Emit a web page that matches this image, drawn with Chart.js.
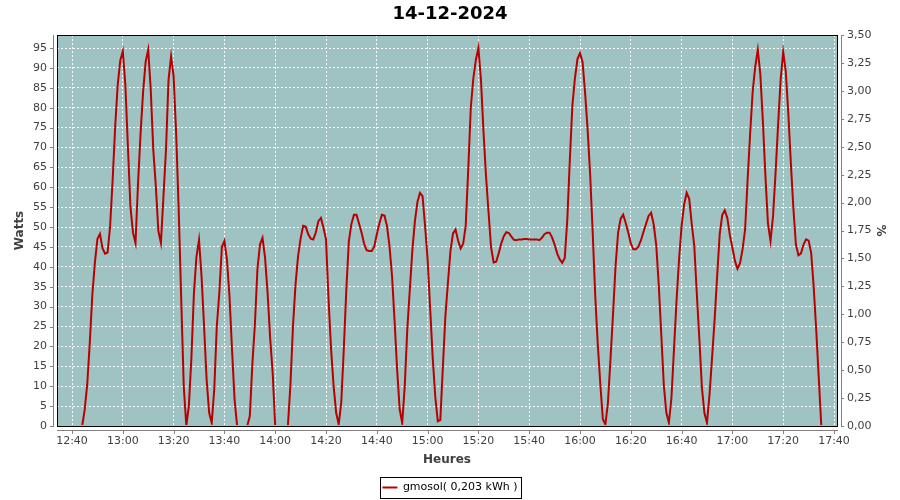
<!DOCTYPE html>
<html><head><meta charset="utf-8">
<script src="https://cdn.jsdelivr.net/npm/chart.js@4.4.1/dist/chart.umd.min.js"></script>
<style>html,body{margin:0;padding:0;background:#fff;}#c{display:block;}</style>
</head><body>
<canvas id="c" width="900" height="500"></canvas>
<script>
const chartTitle = '14-12-2024';
const seriesName = 'gmosol( 0,203 kWh )';
const xTitle = 'Heures';
const yTitle = 'Watts';
const y2Title = '%';

const times = [
'12:40','12:41','12:42','12:43','12:44','12:45','12:46','12:47','12:48','12:49',
'12:50','12:51','12:52','12:53','12:54','12:55','12:56','12:57','12:58','12:59',
'13:00','13:01','13:02','13:03','13:04','13:05','13:06','13:07','13:08','13:09',
'13:10','13:11','13:12','13:13','13:14','13:15','13:16','13:17','13:18','13:19',
'13:20','13:21','13:22','13:23','13:24','13:25','13:26','13:27','13:28','13:29',
'13:30','13:31','13:32','13:33','13:34','13:35','13:36','13:37','13:38','13:39',
'13:40','13:41','13:42','13:43','13:44','13:45','13:46','13:47','13:48','13:49',
'13:50','13:51','13:52','13:53','13:54','13:55','13:56','13:57','13:58','13:59',
'14:00','14:01','14:02','14:03','14:04','14:05','14:06','14:07','14:08','14:09',
'14:10','14:11','14:12','14:13','14:14','14:15','14:16','14:17','14:18','14:19',
'14:20','14:21','14:22','14:23','14:24','14:25','14:26','14:27','14:28','14:29',
'14:30','14:31','14:32','14:33','14:34','14:35','14:36','14:37','14:38','14:39',
'14:40','14:41','14:42','14:43','14:44','14:45','14:46','14:47','14:48','14:49',
'14:50','14:51','14:52','14:53','14:54','14:55','14:56','14:57','14:58','14:59',
'15:00','15:01','15:02','15:03','15:04','15:05','15:06','15:07','15:08','15:09',
'15:10','15:11','15:12','15:13','15:14','15:15','15:16','15:17','15:18','15:19',
'15:20','15:21','15:22','15:23','15:24','15:25','15:26','15:27','15:28','15:29',
'15:30','15:31','15:32','15:33','15:34','15:35','15:36','15:37','15:38','15:39',
'15:40','15:41','15:42','15:43','15:44','15:45','15:46','15:47','15:48','15:49',
'15:50','15:51','15:52','15:53','15:54','15:55','15:56','15:57','15:58','15:59',
'16:00','16:01','16:02','16:03','16:04','16:05','16:06','16:07','16:08','16:09',
'16:10','16:11','16:12','16:13','16:14','16:15','16:16','16:17','16:18','16:19',
'16:20','16:21','16:22','16:23','16:24','16:25','16:26','16:27','16:28','16:29',
'16:30','16:31','16:32','16:33','16:34','16:35','16:36','16:37','16:38','16:39',
'16:40','16:41','16:42','16:43','16:44','16:45','16:46','16:47','16:48','16:49',
'16:50','16:51','16:52','16:53','16:54','16:55','16:56','16:57','16:58','16:59',
'17:00','17:01','17:02','17:03','17:04','17:05','17:06','17:07','17:08','17:09',
'17:10','17:11','17:12','17:13','17:14','17:15','17:16','17:17','17:18','17:19',
'17:20','17:21','17:22','17:23','17:24','17:25','17:26','17:27','17:28','17:29',
'17:30','17:31','17:32','17:33','17:34','17:35'
];

const watts = [
0, 0, 0, 0, 0, 4.1, 10.5, 21, 33, 41,
47, 48.3, 44.7, 43.3, 43.6, 50.2, 61.9, 75.3, 85.8, 91.9,
94.2, 85.8, 70.3, 55.2, 48.6, 46, 61.1, 73.6, 84.1, 91.6,
94.6, 84.5, 69.4, 60.3, 49, 46, 57.7, 69.5, 87, 92.9,
87.9, 73.6, 54.4, 31.7, 10, 0, 5, 17.1, 33.4, 42.6,
46.8, 37.6, 25, 11.6, 3.3, 0.8, 9.2, 25, 33.5, 45,
46.5, 41.8, 32.6, 19.2, 6.7, 0, 0, 0, 0, 0,
2.5, 15.5, 25.5, 39.4, 45.6, 47.3, 42.3, 33.5, 22.2, 13.4,
0, 0, 0, 0, 0, 0, 10.5, 25.1, 35.6, 42.7,
47.1, 50.3, 50.1, 48.2, 47.1, 46.9, 48.7, 51.5, 52.3, 49.8,
46.9, 31.8, 19.3, 10, 3.3, 0.4, 5.9, 19.3, 34.3, 46.5,
50.8, 53.1, 53.1, 50.9, 48.6, 45.8, 44.2, 44, 44, 45.1,
48.2, 50.9, 53.1, 52.9, 50.3, 45.2, 37.7, 26.4, 14.2, 4.2,
0.8, 10, 24.3, 34.3, 44.2, 51.5, 56.3, 58.6, 57.8, 50.3,
41.9, 29.6, 17.2, 7.5, 1.2, 1.5, 14.7, 27.6, 36, 44,
48.4, 49.4, 46.6, 44.6, 45.8, 50.3, 64.5, 80, 87.4, 92,
95, 87.1, 74, 62.8, 53.6, 44.8, 41.1, 41.3, 43.4, 45.9,
47.7, 48.7, 48.5, 47.6, 46.8, 46.7, 46.9, 46.9, 47, 47,
46.9, 46.9, 46.9, 46.9, 46.7, 47.3, 48.2, 48.6, 48.6, 47.4,
45.6, 43.4, 41.9, 41, 42.2, 51.9, 67, 80.6, 87.4, 92.3,
93.7, 91.5, 83.8, 74.5, 63.2, 48.6, 32.7, 20.5, 10.5, 1.7,
0.4, 5.9, 16.8, 28.1, 40.2, 48.6, 52.1, 53.1, 51, 48.6,
45.9, 44.4, 44.4, 45.1, 46.7, 48.8, 50.8, 52.8, 53.6, 50.7,
45.6, 35.5, 23, 10.2, 3.3, 0.8, 7.1, 19.3, 31.4, 41.9,
50.3, 55.7, 58.6, 57.1, 50.7, 45.2, 33.1, 21.8, 9.6, 3.2,
0.8, 8, 17.2, 26.8, 37.7, 48.2, 53, 54.2, 52.3, 48,
44.8, 41.5, 39.5, 40.9, 44.4, 49.4, 62, 73.7, 84.2, 90.4,
94.6, 88.3, 76.6, 62.8, 50.9, 46.5, 52.8, 63.7, 75.8, 87.1,
94, 89.2, 78.7, 66.2, 54.8, 45.6, 42.9, 43.4, 45.6, 46.9,
46.6, 43.6, 35, 24.2, 12.1, 0
];

const xTickLabels = ['12:40','13:00','13:20','13:40','14:00','14:20','14:40','15:00',
  '15:20','15:40','16:00','16:20','16:40','17:00','17:20','17:40'];

const toMin = s => { const p = s.split(':').map(Number); return p[0] * 60 + p[1]; };

const PLOT_BG = '#9fc3c2';
const LINE = '#b80000';
const AXIS = '#808080';
const TXT = '#404040';

Chart.defaults.font.family = "'DejaVu Sans', sans-serif";

const framePlugin = {
  id: 'frame',
  beforeDraw(chart) {
    const {ctx, chartArea: a} = chart;
    ctx.save();
    ctx.fillStyle = '#fff';
    ctx.fillRect(0, 0, chart.width, chart.height);
    ctx.fillStyle = PLOT_BG;
    ctx.fillRect(a.left, a.top, a.right - a.left, a.bottom - a.top);
    ctx.restore();
  },
  afterDatasetsDraw(chart) {
    const {ctx, chartArea: a} = chart;
    ctx.save();
    ctx.strokeStyle = '#000';
    ctx.lineWidth = 1;
    ctx.strokeRect(a.left + 0.5, a.top + 0.5, a.right - a.left, a.bottom - a.top);
    ctx.restore();
  },
  afterDraw(chart) {
    const {ctx, chartArea: a, scales} = chart;
    ctx.save();
    ctx.fillStyle = AXIS;
    // left axis
    ctx.fillRect(a.left - 4, a.top, 1, a.bottom - a.top + 1);
    scales.y.ticks.forEach(t => {
      const p = Math.round(scales.y.getPixelForValue(t.value));
      ctx.fillRect(a.left - 7, p, 3, 1);
    });
    // right axis
    ctx.fillRect(a.right + 4, a.top, 1, a.bottom - a.top + 1);
    scales.y1.ticks.forEach(t => {
      const p = Math.round(scales.y1.getPixelForValue(t.value));
      ctx.fillRect(a.right + 5, p, 2, 1);
    });
    // bottom axis
    ctx.fillRect(a.left, a.bottom + 4, a.right - a.left + 1, 1);
    scales.x.ticks.forEach(t => {
      const p = Math.round(scales.x.getPixelForValue(t.value));
      ctx.fillRect(p, a.bottom + 5, 1, 3);
    });
    // legend frame
    const lg = chart.legend;
    if (lg && lg.legendHitBoxes && lg.legendHitBoxes.length) {
      const hb = lg.legendHitBoxes[0];
      ctx.strokeStyle = '#000';
      ctx.lineWidth = 1;
      const x0 = Math.round(hb.left - 2) + 0.5;
      const y0 = Math.round(hb.top + hb.height / 2 - 10.5) + 0.5;
      ctx.strokeRect(x0, y0, Math.round(hb.width + 6), 21);
    }
    ctx.restore();
  }
};

const points = times.map((t, i) => ({x: toMin(t), y: watts[i]}));

new Chart(document.getElementById('c'), {
  type: 'line',
  data: {
    datasets: [{
      label: seriesName,
      data: points,
      borderColor: LINE,
      backgroundColor: LINE,
      borderWidth: 2,
      pointRadius: 0,
      tension: 0,
      fill: false,
      clip: {left: 0, top: 0, right: 0, bottom: -1},
      xAxisID: 'x',
      yAxisID: 'y'
    }]
  },
  options: {
    responsive: false,
    animation: false,
    devicePixelRatio: 1,
    events: [],
    layout: {padding: {left: 0, right: 0, top: 0, bottom: -3}},
    plugins: {
      title: {
        display: true,
        text: chartTitle,
        color: '#000',
        font: {size: 18, weight: 'bold'},
        padding: {top: 4, bottom: 9.4}
      },
      legend: {
        display: true,
        position: 'bottom',
        labels: {
          color: '#000',
          font: {size: 11},
          boxWidth: 15,
          boxHeight: 2,
          padding: 10,
          generateLabels: chart => Chart.defaults.plugins.legend.labels.generateLabels(chart)
            .map(l => Object.assign(l, {lineWidth: 0, fillStyle: LINE, strokeStyle: LINE}))
        }
      },
      tooltip: {enabled: false}
    },
    scales: {
      x: {
        type: 'linear',
        position: 'bottom',
        min: 754.09,
        max: 1061.18,
        afterBuildTicks: s => { s.ticks = xTickLabels.map(l => ({value: toMin(l)})); },
        afterFit: s => { s.height = 46; },
        ticks: {
          callback: (v, i) => xTickLabels[i],
          autoSkip: false,
          maxRotation: 0,
          padding: 9,
          color: TXT,
          font: {size: 11}
        },
        grid: {color: '#ffffff', lineWidth: 1, drawTicks: false, borderDash: [2, 2]},
        border: {display: false, dash: [2, 2]},
        title: {display: true, text: xTitle, color: TXT, font: {size: 12, weight: 'bold'}, padding: {top: 0, bottom: 5}}
      },
      y: {
        type: 'linear',
        position: 'left',
        min: 0,
        max: 98.27,
        afterFit: s => { s.width = 57; },
        ticks: {stepSize: 5, includeBounds: false, padding: 10, color: TXT, font: {size: 11}},
        grid: {color: '#ffffff', lineWidth: 1, drawTicks: false, borderDash: [2, 2]},
        border: {display: false, dash: [2, 2]},
        title: {display: true, text: yTitle, color: TXT, font: {size: 12, weight: 'bold'}, padding: {top: 13, bottom: 0}}
      },
      y1: {
        type: 'linear',
        position: 'right',
        min: 0,
        max: 3.5,
        afterFit: s => { s.width = 63; },
        ticks: {
          stepSize: 0.25,
          padding: 10,
          color: TXT,
          font: {size: 11},
          callback: v => v.toFixed(2).replace('.', ',')
        },
        grid: {display: false, drawTicks: false},
        border: {display: false},
        title: {display: true, text: y2Title, color: TXT, font: {size: 12, weight: 'bold'}, padding: {top: 13, bottom: 0}}
      }
    }
  },
  plugins: [framePlugin]
});
</script>
</body></html>
